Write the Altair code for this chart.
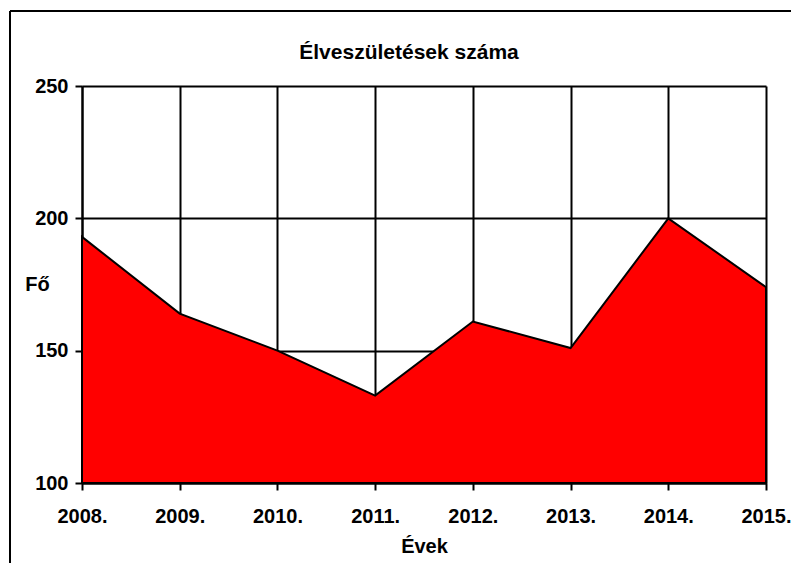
import altair as alt
import pandas as pd

years = [2008, 2009, 2010, 2011, 2012, 2013, 2014, 2015]
births = [193, 164, 150, 133, 161, 151, 200, 174]

df = pd.DataFrame({"ev": years, "fo": births})

FONT = "Liberation Sans"

x_enc = alt.X(
    "ev:Q",
    scale=alt.Scale(domain=[2008, 2015], nice=False, zero=False),
    axis=alt.Axis(
        values=years,
        labelExpr="datum.value + '.'",
        labelFlush=False,
        labelOverlap=False,
        title="Évek",
        titleX=342,
        titleY=69,
        titleAlign="center",
        titleBaseline="alphabetic",
        labelBaseline="alphabetic",
        labelPadding=32,
        tickSize=7,
        grid=True,
    ),
)
y_enc = alt.Y(
    "fo:Q",
    scale=alt.Scale(domain=[100, 250], nice=False, zero=False),
    axis=alt.Axis(
        values=[100, 150, 200, 250],
        labelFlush=False,
        title="Fő",
        titleAngle=0,
        titleX=-45,
        titleY=198,
        titleAlign="center",
        titleBaseline="middle",
        labelPadding=7,
        tickSize=7,
        grid=True,
    ),
)

area = alt.Chart(df).mark_area(
    color="#FF0000", stroke="#000000", strokeWidth=2, line=False
).encode(x=x_enc, y=y_enc, y2=alt.datum(100))

frame_df = pd.DataFrame({"k": [0]})
frame_left = alt.Chart(frame_df).mark_rule(color="black", strokeWidth=2).encode(
    x=alt.value(-72), y=alt.value(-75), y2=alt.value(600)
)
frame_top = alt.Chart(frame_df).mark_rule(color="black", strokeWidth=2).encode(
    x=alt.value(-72), x2=alt.value(800), y=alt.value(-75)
)

chart = (
    alt.layer(area, frame_left, frame_top)
    .properties(
        width=684,
        height=397,
        background="white",
        title=alt.TitleParams(
            "Élveszületések száma",
            anchor="middle",
            frame="group",
            dx=-15,
            dy=70,
            offset=0,
            baseline="alphabetic",
            font=FONT,
            fontSize=21,
            fontWeight="bold",
            color="black",
        ),
        autosize=alt.AutoSizeParams(type="none"),
        padding={"left": 74, "top": 78, "right": 25, "bottom": 80},
    )
    .configure_view(stroke=None)
    .configure_axis(
        domainColor="black",
        domainWidth=2,
        tickColor="black",
        tickWidth=2,
        gridColor="black",
        gridWidth=2,
        gridOpacity=1,
        labelFont=FONT,
        labelFontSize=20,
        labelFontWeight="bold",
        labelColor="black",
        titleFont=FONT,
        titleFontSize=20,
        titleFontWeight="bold",
        titleColor="black",
    )
)

chart.save("out.html", embed_options={"renderer": "svg", "actions": False})
